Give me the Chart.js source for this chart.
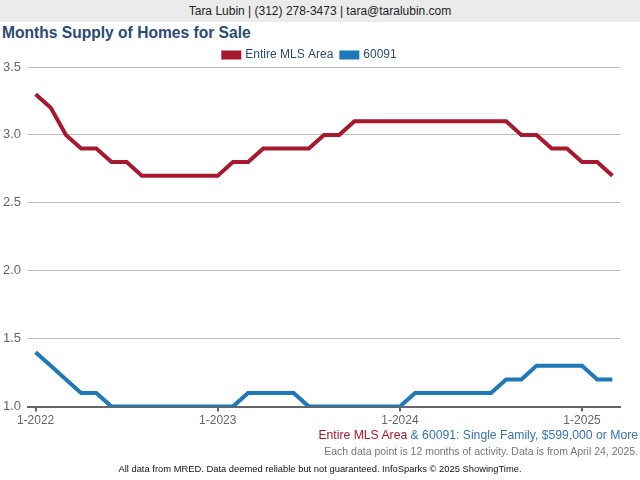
<!DOCTYPE html>
<html>
<head>
<meta charset="utf-8">
<script src="https://cdn.jsdelivr.net/npm/chart.js@4/dist/chart.umd.min.js"></script>
<style>
  body { margin: 0; width: 640px; height: 480px; position: relative; background: #fff; font-family: "Liberation Sans", Arial, sans-serif; overflow: hidden; }
  #header { position: absolute; left: 0; top: 0; width: 640px; height: 22px; background: #ebebeb; text-align: center; font-size: 12px; line-height: 22px; color: #222; }
  #title { position: absolute; left: 2px; top: 24px; font-size: 15.6px; font-weight: bold; color: #2c4a72; }
  #box { position: absolute; left: 0; top: 41px; width: 640px; height: 389px; }
  .foot { position: absolute; right: 2px; white-space: nowrap; }
  #area { top: 428px; font-size: 12.2px; color: #3a74ad; }
  #area span { color: #a6192e; }
  #note { top: 445px; font-size: 10.5px; color: #777; }
  #credit { position: absolute; left: 0; width: 640px; top: 463px; text-align: center; font-size: 9.4px; color: #111; }
</style>
</head>
<body>
<div id="header">Tara Lubin | (312) 278-3473 | tara@taralubin.com</div>
<div id="title">Months Supply of Homes for Sale</div>
<div id="box"><canvas id="myChart"></canvas></div>
<div class="foot" id="area"><span>Entire MLS Area</span> &amp; 60091: Single Family, $599,000 or More</div>
<div class="foot" id="note">Each data point is 12 months of activity. Data is from April 24, 2025.</div>
<div id="credit">All data from MRED. Data deemed reliable but not guaranteed. InfoSparks © 2025 ShowingTime.</div>
<script>
// monthly, 1-2022 .. 3-2025
var thang = [];
for (var y = 2022; y <= 2025; y++) {
    for (var m = 1; m <= 12; m++) {
        if (y == 2025 && m > 3) break;
        thang.push(m + "-" + y);
    }
}

var mlsArea = [3.3, 3.2, 3.0, 2.9, 2.9, 2.8, 2.8, 2.7, 2.7, 2.7, 2.7, 2.7,
               2.7, 2.8, 2.8, 2.9, 2.9, 2.9, 2.9, 3.0, 3.0, 3.1, 3.1, 3.1,
               3.1, 3.1, 3.1, 3.1, 3.1, 3.1, 3.1, 3.1, 3.0, 3.0, 2.9, 2.9,
               2.8, 2.8, 2.7];
var zip60091 = [1.4, 1.3, 1.2, 1.1, 1.1, 1.0, 1.0, 1.0, 1.0, 1.0, 1.0, 1.0,
                1.0, 1.0, 1.1, 1.1, 1.1, 1.1, 1.0, 1.0, 1.0, 1.0, 1.0, 1.0,
                1.0, 1.1, 1.1, 1.1, 1.1, 1.1, 1.1, 1.2, 1.2, 1.3, 1.3, 1.3,
                1.3, 1.2, 1.2];
var yTicks = [1.0, 1.5, 2.0, 2.5, 3.0, 3.5];

function toPoints(arr) {
    return arr.map(function (v, i) { return { x: i, y: v }; });
}

// shrink the gap under the legend a bit
var legendGap = {
    id: "legendGap",
    beforeInit: function (chart) {
        var fit = chart.legend.fit;
        chart.legend.fit = function () {
            fit.bind(chart.legend)();
            this.height -= 4;
        };
    }
};

var ctx = document.getElementById("myChart").getContext("2d");
var myChart = new Chart(ctx, {
    type: "line",
    data: {
        datasets: [
            { label: "Entire MLS Area", data: toPoints(mlsArea), borderColor: "#a6192e", backgroundColor: "#a6192e", borderWidth: 4, pointRadius: 0, tension: 0 },
            { label: "60091", data: toPoints(zip60091), borderColor: "#1f78b8", backgroundColor: "#1f78b8", borderWidth: 4, pointRadius: 0, tension: 0 }
        ]
    },
    plugins: [legendGap],
    options: {
        responsive: true,
        maintainAspectRatio: false,
        animation: false,
        layout: { padding: { left: 0, right: 20, top: 0, bottom: 0 } },
        plugins: {
            legend: {
                position: "top",
                labels: { boxWidth: 16, boxHeight: 5, padding: 8, color: "#2c4a72", font: { family: "Liberation Sans", size: 12 } }
            },
            tooltip: { enabled: false }
        },
        scales: {
            x: {
                type: "linear",
                min: -0.5,
                max: 38.5,
                grid: { drawOnChartArea: false, drawTicks: true, tickLength: 5, color: "#666", lineWidth: 2 },
                border: { color: "#666", width: 2 },
                ticks: {
                    stepSize: 12,
                    includeBounds: false,
                    padding: 2,
                    color: "#666",
                    font: { family: "Liberation Sans", size: 12 },
                    maxRotation: 0,
                    callback: function (v) { return thang[v] || ""; }
                }
            },
            y: {
                min: 1.0,
                max: 3.5,
                afterFit: function (scale) { scale.width = 28; },
                afterBuildTicks: function (scale) { scale.ticks = yTicks.map(function (v) { return { value: v }; }); },
                grid: { color: "#bbb", lineWidth: 1, drawTicks: false },
                border: { display: false },
                ticks: {
                    padding: 7,
                    color: "#666",
                    font: { family: "Liberation Sans", size: 13 },
                    callback: function (v) { return v.toFixed(1); }
                }
            }
        }
    }
});
</script>
</body>
</html>
